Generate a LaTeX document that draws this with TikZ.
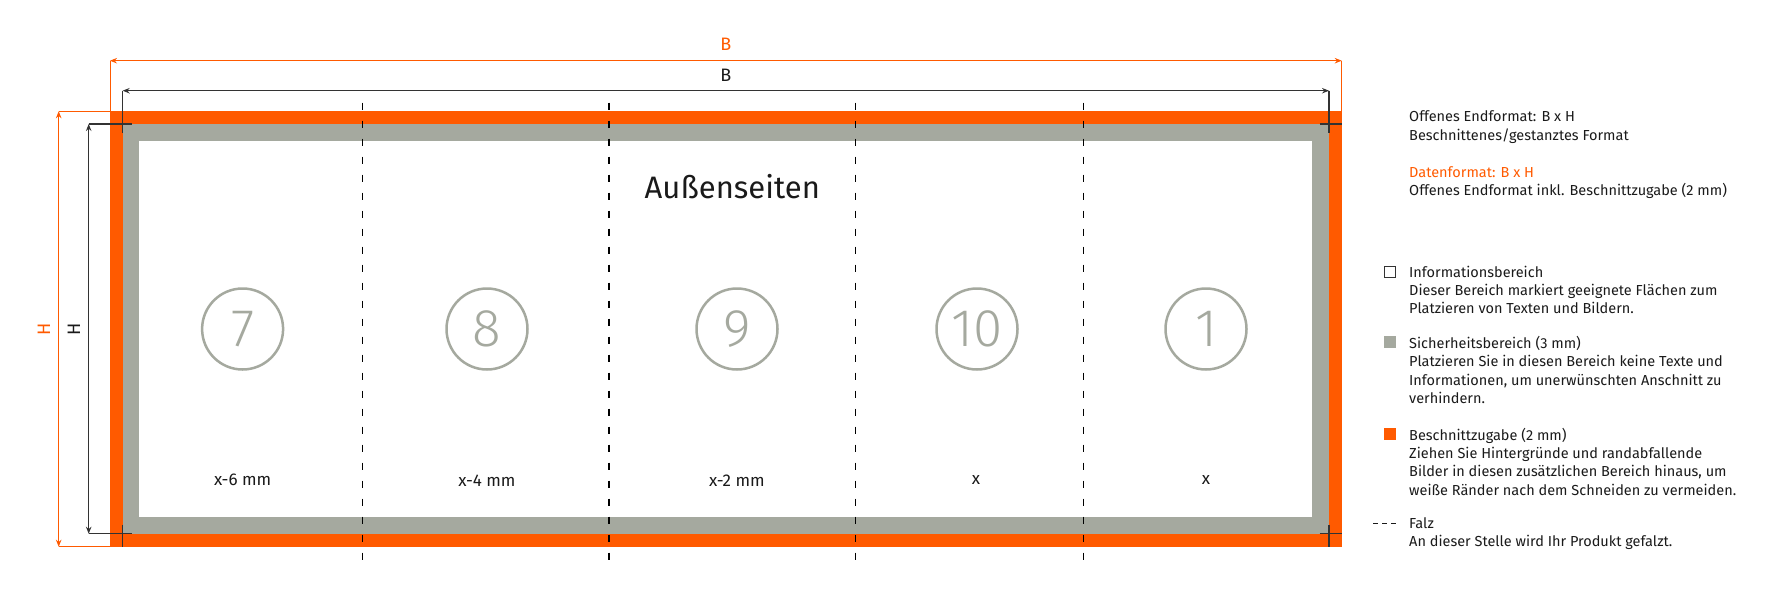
\documentclass[tikz,border=0pt]{standalone}
\usepackage{fontspec}
\setmainfont{Fira Sans}
\newfontfamily\lightfont{Fira Sans Light}
\usepackage{xcolor}
\usetikzlibrary{arrows.meta,positioning,calc}
\definecolor{bleedorange}{HTML}{FF5A00}
\definecolor{safegray}{HTML}{A5A99F}
\definecolor{cropgray}{HTML}{333333}
\definecolor{textblack}{HTML}{1A1A1A}
\tikzstyle{pagenum}=[circle, draw=safegray, line width=2.5pt, minimum size=81pt, inner sep=0pt, text=safegray, font=\lightfont\fontsize{53}{53}\selectfont]
\tikzstyle{panellabel}=[inner sep=0pt, text=textblack, font=\fontsize{17}{20}\selectfont]
\tikzstyle{legtext}=[anchor=north west, inner sep=0pt, align=left, text=textblack, font=\fontsize{14.5}{18.3}\selectfont]
\tikzstyle{legbox}=[minimum size=12pt, inner sep=0pt]

\begin{document}
\begin{tikzpicture}[x=1pt,y=-1pt,
  dimline/.style={{Stealth[length=7pt,width=5.5pt]}-{Stealth[length=7pt,width=5.5pt]},line width=1.1pt,draw=cropgray},
  odimline/.style={dimline,draw=bleedorange,fill=bleedorange,line width=0.9pt},
  extline/.style={line width=1.1pt,draw=cropgray},
  oextline/.style={line width=0.9pt,draw=bleedorange},
  foldline/.style={dash pattern=on 7pt off 11pt,line width=1.3pt,draw=black},
  dimlabel/.style={inner sep=0pt,font=\fontsize{18}{18}\selectfont}]
\useasboundingbox (0,0) rectangle (1776,600);
\coordinate (bleedNW) at (110,111.3);
\coordinate (bleedSE) at (1341.7,546.7);
\coordinate (trimNW) at (122.7,124);
\coordinate (trimSE) at (1329,533.7);
\coordinate (infoNW) at (139.3,140.7);
\coordinate (infoSE) at (1311.5,517.3);
\fill[bleedorange] (bleedNW) rectangle (bleedSE);
\fill[safegray] (trimNW) rectangle (trimSE);
\fill[white] (infoNW) rectangle (infoSE);

\coordinate (oB1) at (110,60.7);
\coordinate (oB2) at (1341.7,60.7);
\coordinate (oH1) at (58.7,111.3);
\coordinate (oH2) at (58.7,546.7);
\draw[oextline] (oB1) -- (bleedNW);
\draw[oextline] (oB2) -- (bleedSE |- bleedNW);
\draw[oextline] (oH1) -- (bleedNW);
\draw[oextline] (oH2) -- (bleedNW |- bleedSE);
\draw[odimline] (oB1) -- (oB2);
\draw[odimline] (oH1) -- (oH2);
\node (oBlabel) at (725.8,44.5) [dimlabel,text=bleedorange] {B};
\node (oHlabel) at (44,329) [dimlabel,text=bleedorange,rotate=90] {H};

\coordinate (kB1) at (122.7,90.7);
\coordinate (kB2) at (1329,90.7);
\coordinate (kH1) at (88.7,124);
\coordinate (kH2) at (88.7,533.7);
\draw[extline] (kB1) -- (122.7,133);
\draw[extline] (kB2) -- (1329,133);
\draw[extline] (kH1) -- (132,124);
\draw[extline] (kH2) -- (132,533.7);
\draw[extline] (1319.5,124) -- (1341.7,124);
\draw[extline] (1319.5,533.7) -- (1341.7,533.7);
\draw[extline] (122.7,524.5) -- (122.7,546.7);
\draw[extline] (1329,524.5) -- (1329,546.7);
\draw[dimline] (kB1) -- (kB2);
\draw[dimline] (kH1) -- (kH2);
\node (kBlabel) at (725.8,75) [dimlabel,text=textblack] {B};
\node (kHlabel) at (74,329) [dimlabel,text=textblack,rotate=90] {H};

\coordinate (fold1t) at (362.5,102.7);
\coordinate (fold1b) at (362.5,562);
\coordinate (fold2t) at (609.3,102.7);
\coordinate (fold2b) at (609.3,562);
\coordinate (fold3t) at (855.3,102.7);
\coordinate (fold3b) at (855.3,562);
\coordinate (fold4t) at (1083.5,102.7);
\coordinate (fold4b) at (1083.5,562);
\draw[foldline] (fold1t) -- (fold1b);
\draw[foldline,line width=2pt] (fold2t) -- (fold2b);
\draw[foldline] (fold3t) -- (fold3b);
\draw[foldline] (fold4t) -- (fold4b);

\node (title) at (732.3,186.7) [text=textblack,font=\fontsize{31}{31}\selectfont] {Außenseiten};
\node (p7) at (242.6,329) [pagenum] {7};
\node (p8) at (487,329) [pagenum] {8};
\node (p9) at (737,329) [pagenum] {9};
\node (p10) at (977,329) [pagenum] {10};
\node (p1) at (1206,329) [pagenum] {1};
\node (w7) at (242.6,480.3) [panellabel] {x-6 mm};
\node (w8) at (487,480.3) [panellabel] {x-4 mm};
\node (w9) at (737,480.3) [panellabel] {x-2 mm};
\node (w10) at (976,480.3) [panellabel] {x};
\node (w1) at (1206,480.3) [panellabel] {x};

\node (legA) at (1409,110.7) [legtext] {Offenes Endformat: B x H\\Beschnittenes/gestanztes Format};
\node (legB) at (1409,166.2) [legtext] {\textcolor{bleedorange}{Datenformat: B x H}\\Offenes Endformat inkl. Beschnittzugabe (2 mm)};
\node (boxinfo) at (1389.8,271.8) [legbox,draw=cropgray,line width=1.2pt,fill=white,minimum size=11pt] {};
\node (leginfo) at (1409,265.8) [legtext] {Informationsbereich\\Dieser Bereich markiert geeignete Flächen zum\\Platzieren von Texten und Bildern.};
\node (boxsafe) at (1389.8,342) [legbox,fill=safegray] {};
\node (legsafe) at (1409,336) [legtext] {Sicherheitsbereich (3 mm)\\Platzieren Sie in diesen Bereich keine Texte und\\Informationen, um unerwünschten Anschnitt zu\\verhindern.};
\node (boxbleed) at (1389.8,433.8) [legbox,fill=bleedorange] {};
\node (legbleed) at (1409,427.8) [legtext] {Beschnittzugabe (2 mm)\\Ziehen Sie Hintergründe und randabfallende\\Bilder in diesen zusätzlichen Bereich hinaus, um\\weiße Ränder nach dem Schneiden zu vermeiden.};
\coordinate (falzA) at (1373,523.3);
\coordinate (falzB) at (1396,523.3);
\draw[dash pattern=on 5pt off 4pt,line width=1pt,draw=textblack] (falzA) -- (falzB);
\node (legfold) at (1409,517.3) [legtext] {Falz\\An dieser Stelle wird Ihr Produkt gefalzt.};
\end{tikzpicture}
\end{document}
